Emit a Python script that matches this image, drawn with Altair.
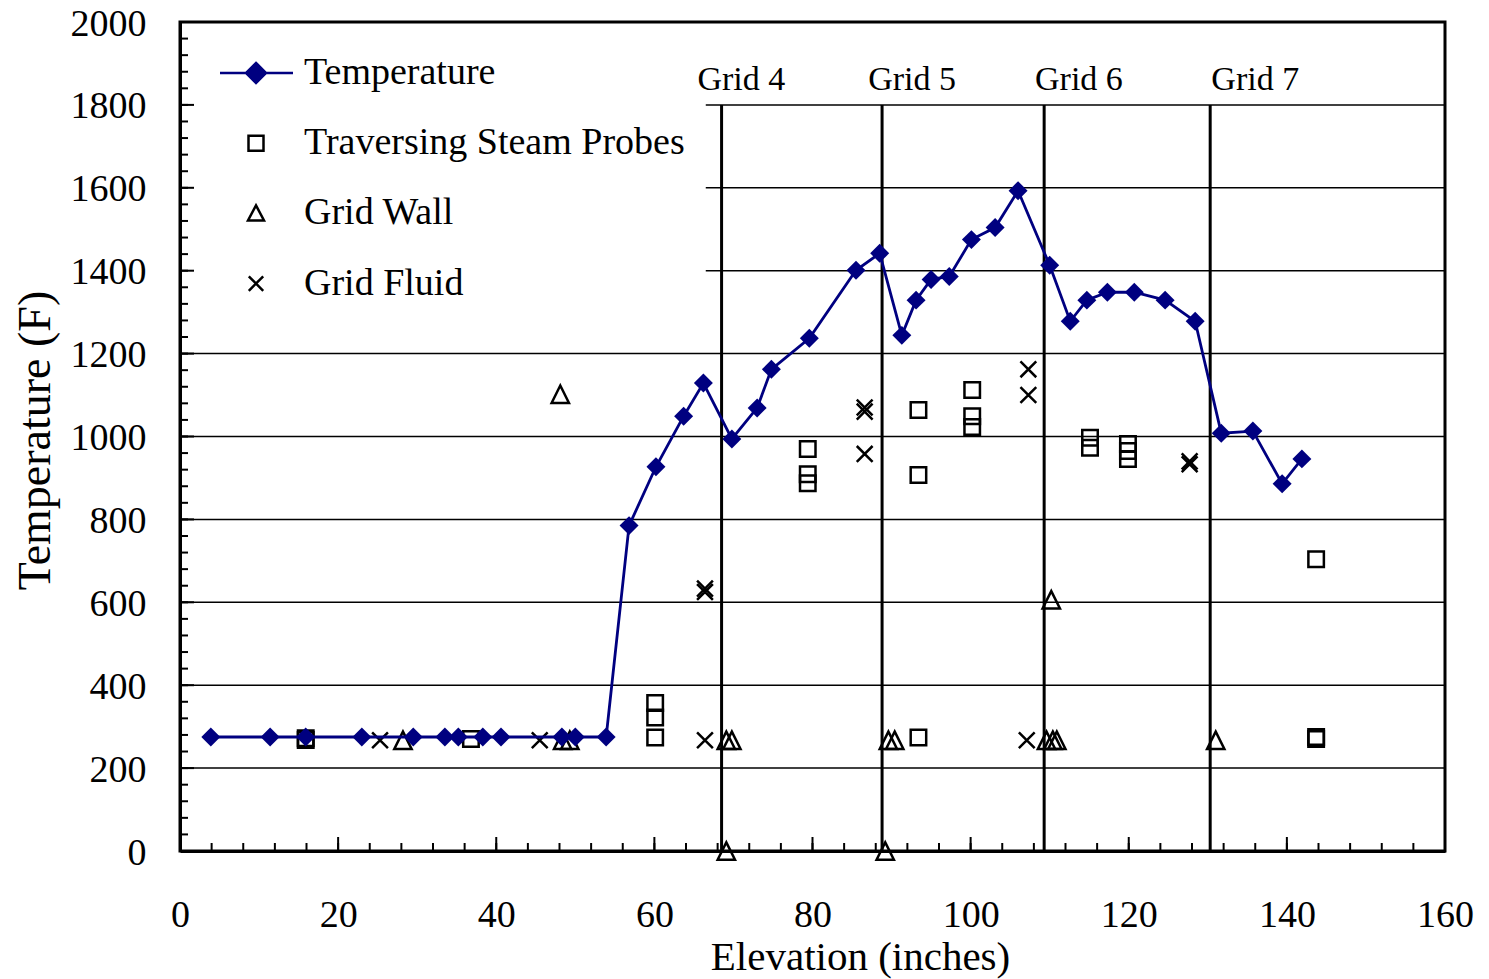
import altair as alt
import pandas as pd

# ---------------- data ----------------
series_names = ["Temperature", "Traversing Steam Probes", "Grid Wall", "Grid Fluid"]

temp_x = [3.9, 11.4, 15.9, 23.0, 29.5, 33.5, 35.2, 38.3, 40.6, 48.3, 50.0, 53.9,
          56.8, 60.2, 63.7, 66.2, 69.8, 73.0, 74.8, 79.6, 85.5, 88.5, 91.3, 93.1,
          95.0, 97.3, 100.1, 103.1, 106.0, 110.0, 112.6, 114.7, 117.3, 120.7, 124.6,
          128.4, 131.7, 135.7, 139.4, 141.9]
temp_y = [275, 275, 275, 275, 275, 275, 275, 275, 275, 275, 275, 275,
          785, 927, 1049, 1129, 994, 1069, 1162, 1237, 1401, 1442, 1244, 1329,
          1379, 1386, 1475, 1504, 1593, 1413, 1278, 1329, 1348, 1348, 1329,
          1278, 1008, 1013, 886, 946]

probe_x = [15.9, 15.9, 36.8, 60.1, 60.1, 60.1, 79.4, 79.4, 79.4, 93.4, 93.4, 93.4,
           100.2, 100.2, 100.2, 115.1, 115.1, 119.9, 119.9, 119.9, 143.7, 143.7, 143.7]
probe_y = [272, 268, 270, 357, 322, 274, 970, 909, 887, 1064, 907, 274,
           1112, 1049, 1023, 997, 973, 982, 965, 946, 704, 275, 270]

wall_x = [28.2, 48.1, 48.4, 49.3, 69.1, 69.1, 69.8, 89.2, 89.6, 90.4, 109.6, 110.2,
          110.4, 110.9, 131.0]
wall_y = [267, 1102, 267, 267, 0, 267, 267, 0, 267, 267, 267, 606, 267, 267, 267]

fluid_x = [25.3, 45.5, 66.4, 66.4, 66.4, 86.6, 86.6, 86.6, 107.3, 107.3, 107.1, 127.7, 127.7]
fluid_y = [267, 267, 633, 625, 267, 1070, 1060, 958, 1162, 1100, 267, 940, 933]

grid_pos = [68.5, 88.8, 109.3, 130.3]
grid_labels = ["Grid 4", "Grid 5", "Grid 6", "Grid 7"]
grid_label_x = [71.0, 92.6, 113.7, 136.0]

x_tick_labels = [0, 20, 40, 60, 80, 100, 120, 140, 160]
y_tick_labels = [0, 200, 400, 600, 800, 1000, 1200, 1400, 1600, 1800, 2000]
hgrid_vals = [200, 400, 600, 800, 1000, 1200, 1400, 1600, 1800]

# ---------------- layout / style ----------------
W, H = 1265, 829
FONT = "Liberation Serif"
NAVY = "#000080"
LEGEND_EDGE = 66.5   # gridlines above 1300 start right of the legend

xs = alt.Scale(domain=[0, 160], nice=False, zero=False)
ys = alt.Scale(domain=[0, 2000], nice=False, zero=False)

xaxis = alt.Axis(values=x_tick_labels, format="d", ticks=False, grid=False,
                 domainColor="black", domainWidth=3, labelFont=FONT, labelFontSize=38,
                 labelColor="black", labelPadding=45, labelFlush=False, labelOverlap=False,
                 title="Elevation (inches)", titleFont=FONT, titleFontSize=41,
                 titleFontWeight="normal", titleColor="black", titleX=680, titleY=118,
                 titleBaseline="alphabetic", titleAlign="center")
yaxis = alt.Axis(values=y_tick_labels, format="d", ticks=False, grid=False,
                 domainColor="black", domainWidth=3, labelFont=FONT, labelFontSize=38,
                 labelColor="black", labelPadding=34, labelFlush=False, labelOverlap=False,
                 labelOffset=2,
                 title="Temperature (F)", titleFont=FONT, titleFontSize=46,
                 titleFontWeight="normal", titleColor="black", titleX=-131, titleY=418,
                 titleBaseline="alphabetic", titleAlign="center", titleAngle=270)

X = lambda f: alt.X(f, scale=xs, axis=xaxis)
Y = lambda f: alt.Y(f, scale=ys, axis=yaxis)

# horizontal gridlines
hgrid_df = pd.DataFrame({"v": hgrid_vals,
                         "x0": [LEGEND_EDGE if v >= 1400 else 0 for v in hgrid_vals],
                         "x1": [160] * len(hgrid_vals)})
hgrid = alt.Chart(hgrid_df).mark_rule(color="black", strokeWidth=1.5).encode(
    x=X("x0:Q"), x2="x1:Q", y=Y("v:Q"))

# grid (spacer grid) vertical lines
grid_df = pd.DataFrame({"g": grid_pos, "lx": grid_label_x, "label": grid_labels,
                        "y0": [0] * 4, "y1": [1800] * 4})
vgrid = alt.Chart(grid_df).mark_rule(color="black", strokeWidth=3).encode(
    x=X("g:Q"), y=Y("y0:Q"), y2="y1:Q")
vlabels = alt.Chart(grid_df).mark_text(font=FONT, fontSize=34, color="black",
                                       align="center", baseline="middle", dy=-25).encode(
    x=X("lx:Q"), y=Y("y1:Q"), text="label:N")

# inward ticks
xt_minor = pd.DataFrame({"t": list(range(0, 161, 4))})
xt_major = pd.DataFrame({"t": list(range(0, 161, 20))})
yt_minor = pd.DataFrame({"t": list(range(0, 2001, 40))})
yt_major = pd.DataFrame({"t": list(range(0, 2001, 200))})
tick_style = dict(color="black", strokeWidth=2)
xtm = alt.Chart(xt_minor).mark_rule(**tick_style).encode(
    x=X("t:Q"), y=alt.value(H), y2=alt.value(H - 8))
xtM = alt.Chart(xt_major).mark_rule(**tick_style).encode(
    x=X("t:Q"), y=alt.value(H), y2=alt.value(H - 14))
ytm = alt.Chart(yt_minor).mark_rule(**tick_style).encode(
    y=Y("t:Q"), x=alt.value(0), x2=alt.value(8))
ytM = alt.Chart(yt_major).mark_rule(**tick_style).encode(
    y=Y("t:Q"), x=alt.value(0), x2=alt.value(14))

temp_df = pd.DataFrame({"x": temp_x, "y": temp_y})
probe_df = pd.DataFrame({"x": probe_x, "y": probe_y})
wall_df = pd.DataFrame({"x": wall_x, "y": wall_y})
fluid_df = pd.DataFrame({"x": fluid_x, "y": fluid_y})

TRI = "M0,-1L1,1L-1,1Z"
XSHAPE = "M-1,-1L1,1M1,-1L-1,1"

probes = alt.Chart(probe_df).mark_point(shape="square", filled=False, color="black",
                                        strokeWidth=2.5, size=240, opacity=1).encode(
    x=X("x:Q"), y=Y("y:Q"))
walls = alt.Chart(wall_df).mark_point(shape=TRI, filled=False, color="black",
                                      strokeWidth=2.5, size=300, opacity=1).encode(
    x=X("x:Q"), y=Y("y:Q"))
fluids = alt.Chart(fluid_df).mark_point(shape=XSHAPE, filled=False, color="black",
                                        strokeWidth=2.5, size=250, opacity=1).encode(
    x=X("x:Q"), y=Y("y:Q"))
tline = alt.Chart(temp_df).mark_line(color=NAVY, strokeWidth=2.8).encode(
    x=X("x:Q"), y=Y("y:Q"))
tpts = alt.Chart(temp_df).mark_point(shape="diamond", filled=True, color=NAVY,
                                     size=360, opacity=1).encode(
    x=X("x:Q"), y=Y("y:Q"))

# legend carrier (invisible points, visible legend)
all_df = pd.concat([
    temp_df.assign(series=series_names[0]),
    probe_df.assign(series=series_names[1]),
    wall_df.assign(series=series_names[2]),
    fluid_df.assign(series=series_names[3]),
])
leg_paths = ["M-3.6,0H3.7M0,-1L1,0L0,1L-1,0Z",
             "M-0.75,-0.75H0.75V0.75H-0.75Z",
             "M0,-0.8L0.8,0.7H-0.8Z",
             "M-0.72,-0.72L0.72,0.72M0.72,-0.72L-0.72,0.72"]
leg = alt.Legend(title=None, orient="none", legendX=37, legendY=12, padding=20,
                 symbolSize=400, symbolStrokeWidth=2.5, symbolOpacity=1,
                 labelFont=FONT, labelFontSize=38, labelColor="black",
                 labelOffset=29, rowPadding=32.2, labelLimit=800)
carrier = alt.Chart(all_df).mark_point(opacity=0, filled=False, size=10).encode(
    x=X("x:Q"), y=Y("y:Q"),
    shape=alt.Shape("series:N", scale=alt.Scale(domain=series_names, range=leg_paths), legend=leg),
    stroke=alt.Stroke("series:N", scale=alt.Scale(domain=series_names,
                                                  range=[NAVY, "black", "black", "black"]), legend=leg),
    fill=alt.Fill("series:N", scale=alt.Scale(domain=series_names,
                                              range=[NAVY, "transparent", "transparent", "transparent"]), legend=leg),
)

chart = alt.layer(hgrid, vgrid, xtm, xtM, ytm, ytM, probes, walls, fluids, tline, tpts,
                  carrier, vlabels).properties(
    width=W, height=H,
    autosize=alt.AutoSizeParams(type="none"),
    padding={"left": 172, "top": 14, "right": 30, "bottom": 128},
    background="white",
).configure_view(stroke="black", strokeWidth=3)

chart.save("out.html", embed_options={"renderer": "svg", "actions": False})
